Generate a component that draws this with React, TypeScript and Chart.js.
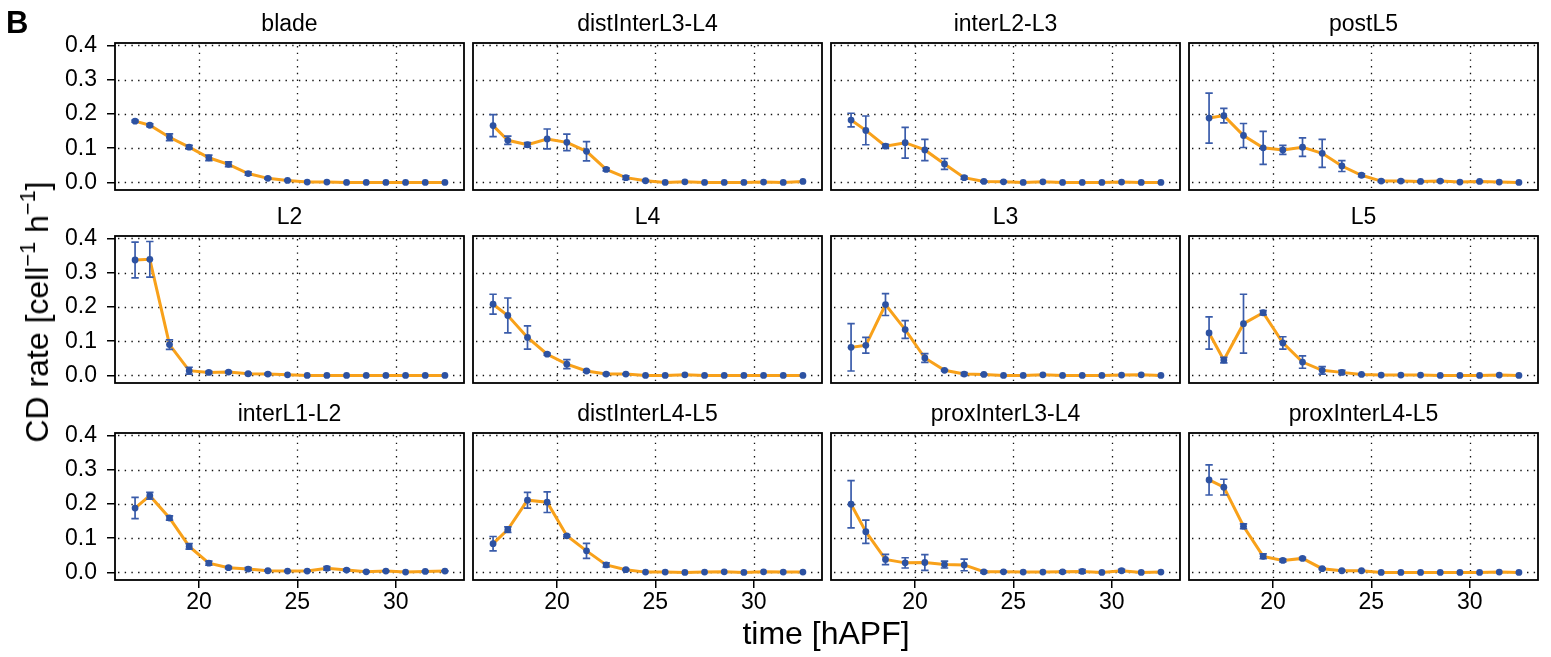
import React, { useEffect, useRef } from 'react';
import { Chart, registerables } from 'chart.js';

Chart.register(...registerables);

const FONT = '"Liberation Sans", Arial, Helvetica, sans-serif';

// ---- data ----
const times = [16.75, 17.5, 18.5, 19.5, 20.5, 21.5, 22.5, 23.5, 24.5, 25.5, 26.5, 27.5, 28.5, 29.5, 30.5, 31.5, 32.5];
const xTicks = [20, 25, 30];
const yTicks = [0, 0.1, 0.2, 0.3, 0.4];

const bladeRate = [0.179, 0.167, 0.132, 0.103, 0.072, 0.053, 0.026, 0.012, 0.006, 0.001, 0.001, 0, 0, 0, 0, 0, 0];
const bladeErr = [0.003, 0.004, 0.01, 0.005, 0.008, 0.007, 0.005, 0.002, 0.001, 0, 0, 0, 0, 0, 0, 0, 0];

const distInterL3L4Rate = [0.166, 0.123, 0.110, 0.127, 0.117, 0.091, 0.038, 0.014, 0.005, 0, 0.002, 0, 0, 0, 0.001, 0, 0.003];
const distInterL3L4Err = [0.032, 0.012, 0.006, 0.029, 0.024, 0.028, 0.004, 0.005, 0.002, 0, 0, 0, 0, 0, 0, 0, 0];

const interL2L3Rate = [0.182, 0.152, 0.106, 0.116, 0.095, 0.054, 0.014, 0.003, 0.002, 0, 0.002, 0, 0, 0, 0.001, 0, 0];
const interL2L3Err = [0.02, 0.042, 0.005, 0.045, 0.031, 0.016, 0.004, 0.002, 0.001, 0, 0, 0, 0, 0, 0, 0, 0];

const postL5Rate = [0.188, 0.195, 0.137, 0.101, 0.095, 0.103, 0.085, 0.048, 0.021, 0.004, 0.004, 0.003, 0.004, 0.001, 0.003, 0.001, 0];
const postL5Err = [0.073, 0.021, 0.035, 0.048, 0.013, 0.027, 0.041, 0.016, 0.004, 0.002, 0.002, 0.001, 0.002, 0, 0.001, 0, 0];

const L2Rate = [0.337, 0.339, 0.090, 0.014, 0.009, 0.010, 0.005, 0.004, 0.002, 0, 0, 0, 0, 0, 0, 0, 0];
const L2Err = [0.052, 0.052, 0.014, 0.01, 0.003, 0.002, 0.002, 0.002, 0, 0, 0, 0, 0, 0, 0, 0, 0];

const L4Rate = [0.208, 0.175, 0.111, 0.062, 0.033, 0.013, 0.004, 0.004, 0, 0, 0.002, 0, 0, 0, 0, 0, 0];
const L4Err = [0.029, 0.051, 0.034, 0.003, 0.013, 0.003, 0.002, 0.001, 0, 0, 0, 0, 0, 0, 0, 0, 0];

const L3Rate = [0.082, 0.088, 0.207, 0.134, 0.051, 0.015, 0.004, 0.003, 0, 0, 0.002, 0, 0, 0, 0.001, 0.002, 0];
const L3Err = [0.069, 0.023, 0.032, 0.026, 0.013, 0.002, 0.004, 0.001, 0, 0, 0, 0, 0, 0, 0, 0, 0];

const L5Rate = [0.124, 0.045, 0.151, 0.183, 0.095, 0.039, 0.015, 0.009, 0.003, 0.001, 0.001, 0.001, 0, 0, 0, 0.001, 0];
const L5Err = [0.047, 0.008, 0.086, 0.006, 0.018, 0.018, 0.011, 0.006, 0.001, 0, 0, 0, 0, 0, 0, 0, 0];

const interL1L2Rate = [0.188, 0.224, 0.159, 0.076, 0.027, 0.014, 0.010, 0.005, 0.004, 0.004, 0.012, 0.007, 0.002, 0.004, 0.001, 0.003, 0.004];
const interL1L2Err = [0.031, 0.01, 0.006, 0.008, 0.006, 0.003, 0.004, 0.001, 0.001, 0.001, 0.005, 0.003, 0.001, 0.001, 0, 0.001, 0.001];

const distInterL4L5Rate = [0.084, 0.125, 0.211, 0.205, 0.107, 0.063, 0.022, 0.008, 0.001, 0.001, 0, 0.001, 0.002, 0, 0.002, 0.001, 0.001];
const distInterL4L5Err = [0.021, 0.008, 0.023, 0.030, 0.003, 0.022, 0.006, 0.002, 0, 0, 0, 0, 0, 0, 0, 0, 0];

const proxInterL3L4Rate = [0.199, 0.119, 0.038, 0.028, 0.029, 0.023, 0.022, 0.002, 0.002, 0.001, 0.001, 0.002, 0.003, 0, 0.005, 0, 0.001];
const proxInterL3L4Err = [0.069, 0.034, 0.015, 0.015, 0.023, 0.010, 0.017, 0.003, 0.001, 0, 0, 0.003, 0.005, 0, 0.004, 0, 0];

const proxInterL4L5Rate = [0.270, 0.249, 0.135, 0.047, 0.035, 0.041, 0.011, 0.005, 0.005, 0, 0, 0, 0, 0, 0, 0.001, 0];
const proxInterL4L5Err = [0.044, 0.023, 0.007, 0.007, 0.004, 0.003, 0.002, 0.001, 0.001, 0, 0, 0, 0, 0, 0, 0, 0];

const panelTitles = [
  'blade', 'distInterL3-L4', 'interL2-L3', 'postL5',
  'L2', 'L4', 'L3', 'L5',
  'interL1-L2', 'distInterL4-L5', 'proxInterL3-L4', 'proxInterL4-L5',
];
const panelRates = [
  bladeRate, distInterL3L4Rate, interL2L3Rate, postL5Rate,
  L2Rate, L4Rate, L3Rate, L5Rate,
  interL1L2Rate, distInterL4L5Rate, proxInterL3L4Rate, proxInterL4L5Rate,
];
const panelErrs = [
  bladeErr, distInterL3L4Err, interL2L3Err, postL5Err,
  L2Err, L4Err, L3Err, L5Err,
  interL1L2Err, distInterL4L5Err, proxInterL3L4Err, proxInterL4L5Err,
];

// ---- layout ----
const X0 = [115, 473, 831, 1189];
const Y0 = [43, 236, 433];
const PW = 349;
const PH = 147;
const TOP = 34;
const X_MIN = 15.73;
const X_MAX = 33.47;
const Y_MIN = -0.022;
const Y_MAX = 0.407;

const ORANGE = '#F8A11A';
const BLUE = '#2D52A2';
const ERR_BLUE = '#3A5CAA';

const decoPlugin = {
  id: 'panelDeco',
  beforeDatasetsDraw(chart: any) {
    const { ctx, chartArea: a, scales } = chart;
    const x = scales.x;
    const y = scales.y;
    ctx.save();
    ctx.beginPath();
    ctx.rect(a.left, a.top, a.width, a.height);
    ctx.clip();
    ctx.strokeStyle = '#111';
    ctx.lineWidth = 1.3;
    ctx.setLineDash([1.4, 5.3]);
    for (const v of yTicks) {
      const py = Math.round(y.getPixelForValue(v)) + 0.5;
      ctx.beginPath();
      ctx.moveTo(a.left + 3, py);
      ctx.lineTo(a.right, py);
      ctx.stroke();
    }
    for (const v of xTicks) {
      const px = Math.round(x.getPixelForValue(v)) + 0.5;
      ctx.beginPath();
      ctx.moveTo(px, a.top + 3);
      ctx.lineTo(px, a.bottom);
      ctx.stroke();
    }
    ctx.restore();
  },
  afterDatasetDraw(chart: any, args: any, opts: any) {
    if (args.index !== 1) return;
    const { ctx, scales } = chart;
    const x = scales.x;
    const y = scales.y;
    const rate: number[] = opts.rate;
    const err: number[] = opts.err;
    ctx.save();
    ctx.strokeStyle = ERR_BLUE;
    ctx.lineWidth = 1.7;
    for (let i = 0; i < times.length; i++) {
      if (!err[i]) continue;
      const px = x.getPixelForValue(times[i]);
      const top = y.getPixelForValue(rate[i] + err[i]);
      const bot = y.getPixelForValue(rate[i] - err[i]);
      ctx.beginPath();
      ctx.moveTo(px, top);
      ctx.lineTo(px, bot);
      ctx.moveTo(px - 3.7, top);
      ctx.lineTo(px + 3.7, top);
      ctx.moveTo(px - 3.7, bot);
      ctx.lineTo(px + 3.7, bot);
      ctx.stroke();
    }
    ctx.restore();
  },
  afterDraw(chart: any, _args: any, opts: any) {
    const { ctx, chartArea: a } = chart;
    ctx.save();
    ctx.strokeStyle = '#000';
    ctx.lineWidth = 1.8;
    ctx.setLineDash([]);
    ctx.strokeRect(a.left, a.top, a.width, a.height);
    ctx.fillStyle = '#000';
    ctx.font = `23px ${FONT}`;
    ctx.textAlign = 'center';
    ctx.textBaseline = 'alphabetic';
    ctx.fillText(opts.title, (a.left + a.right) / 2, a.top - 12);
    ctx.restore();
  },
};

function Panel({ idx }: { idx: number }) {
  const ref = useRef<HTMLCanvasElement>(null);
  const r = Math.floor(idx / 4);
  const c = idx % 4;
  const showX = r === 2;
  const showY = c === 0;
  const padL = showY ? 115 : 4;
  const bottomH = showX ? 45 : 30;
  const width = padL + PW + 4;
  const height = TOP + PH + bottomH;
  const left = X0[c] - padL;
  const top = Y0[r] - TOP;

  useEffect(() => {
    const rate = panelRates[idx];
    const err = panelErrs[idx];
    const pts = times.map((t, i) => ({ x: t, y: rate[i] }));
    const chart = new Chart(ref.current as HTMLCanvasElement, {
      type: 'line',
      data: {
        datasets: [
          {
            data: pts,
            showLine: false,
            pointRadius: 3.4,
            pointBackgroundColor: BLUE,
            pointBorderWidth: 0,
            borderColor: BLUE,
          },
          {
            data: pts,
            borderColor: ORANGE,
            borderWidth: 3,
            pointRadius: 0,
            tension: 0,
            fill: false,
          },
        ],
      },
      options: {
        animation: false,
        responsive: false,
        events: [],
        layout: { padding: { top: TOP, left: showY ? 0 : 4, right: 4, bottom: 0 } },
        plugins: {
          legend: { display: false },
          tooltip: { enabled: false },
          title: { display: false },
          panelDeco: { title: panelTitles[idx], rate, err },
        } as any,
        scales: {
          x: {
            type: 'linear',
            min: X_MIN,
            max: X_MAX,
            afterBuildTicks: (s: any) => {
              s.ticks = xTicks.map((v) => ({ value: v }));
            },
            afterFit: (s: any) => {
              s.height = bottomH;
            },
            ticks: {
              display: showX,
              color: '#000',
              font: { family: FONT, size: 23 },
              padding: 1,
              maxRotation: 0,
              autoSkip: false,
              callback: (v: any) => String(v),
            },
            grid: {
              display: showX,
              drawOnChartArea: false,
              drawTicks: true,
              tickLength: 8,
              color: '#000',
              lineWidth: 1.5,
            },
            border: { display: false },
          },
          y: {
            type: 'linear',
            min: Y_MIN,
            max: Y_MAX,
            afterBuildTicks: (s: any) => {
              s.ticks = yTicks.map((v) => ({ value: v }));
            },
            afterFit: (s: any) => {
              s.width = showY ? 115 : 0;
            },
            ticks: {
              display: showY,
              color: '#000',
              font: { family: FONT, size: 23 },
              padding: 10,
              autoSkip: false,
              callback: (v: any) => Number(v).toFixed(1),
            },
            grid: {
              display: showY,
              drawOnChartArea: false,
              drawTicks: true,
              tickLength: 8,
              color: '#000',
              lineWidth: 1.5,
            },
            border: { display: false },
          },
        } as any,
      },
      plugins: [decoPlugin as any],
    });
    return () => chart.destroy();
  }, [idx]);

  return (
    <canvas
      ref={ref}
      width={width}
      height={height}
      style={{ position: 'absolute', left, top, width, height }}
    />
  );
}

export default function App() {
  const supStyle: React.CSSProperties = { fontSize: '0.68em', position: 'relative', top: '-0.62em' };
  return (
    <div
      style={{
        position: 'absolute',
        left: 0,
        top: 0,
        width: 1551,
        height: 657,
        background: '#fff',
        overflow: 'hidden',
        fontFamily: FONT,
        color: '#000',
      }}
    >
      {panelTitles.map((_, i) => (
        <Panel key={i} idx={i} />
      ))}
      <div
        style={{
          position: 'absolute',
          left: 6,
          top: 7,
          fontSize: 31,
          lineHeight: '31px',
          fontWeight: 'bold',
        }}
      >
        B
      </div>
      <div
        style={{
          position: 'absolute',
          left: 39,
          top: 312,
          transform: 'translate(-50%, -50%) rotate(-90deg)',
          fontSize: 32,
          lineHeight: '32px',
          whiteSpace: 'nowrap',
        }}
      >
        CD rate [cell<span style={supStyle}>−1</span> h<span style={supStyle}>−1</span>]
      </div>
      <div
        style={{
          position: 'absolute',
          left: 826,
          top: 617,
          transform: 'translateX(-50%)',
          fontSize: 32,
          lineHeight: '32px',
          whiteSpace: 'nowrap',
        }}
      >
        time [hAPF]
      </div>
    </div>
  );
}
